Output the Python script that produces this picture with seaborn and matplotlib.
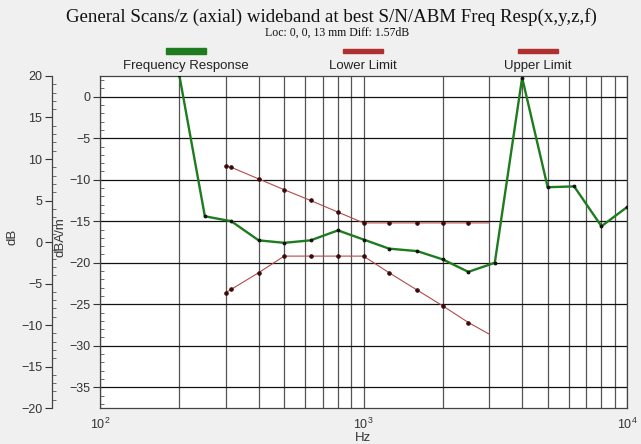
import numpy as np
import pandas as pd
import matplotlib
matplotlib.use('Agg')
import matplotlib.pyplot as plt
import seaborn as sns
from matplotlib.patches import Rectangle
from matplotlib.ticker import MultipleLocator, LogLocator, NullFormatter

# Frequency response (1/3 octave bands), dBA/m
resp_freq = [200, 250, 315, 400, 500, 630, 800, 1000, 1250, 1600, 2000, 2500,
             3150, 4000, 5000, 6300, 8000, 10000]
resp_db = [2.6, -14.4, -15.0, -17.3, -17.6, -17.3, -16.1, -17.2, -18.3, -18.6,
           -19.6, -21.1, -20.0, 2.3, -10.9, -10.8, -15.6, -13.3]

# Limit curves
limit_freq = [300, 315, 400, 500, 630, 800, 1000, 1250, 1600, 2000, 2500, 3000]
upper_db = [-8.3, -8.5, -9.9, -11.2, -12.5, -13.9, -15.2, -15.2, -15.2, -15.2, -15.2, -15.2]
lower_db = [-23.6, -23.2, -21.2, -19.2, -19.2, -19.2, -19.2, -21.2, -23.3, -25.2, -27.2, -28.6]

legend_labels = ['Frequency Response', 'Lower Limit', 'Upper Limit']

green = '#1e7b1e'
red = '#b24a4a'
dot = '#3a0a0a'

sns.set_theme(style='white')
plt.rcParams['font.family'] = ['Liberation Sans', 'DejaVu Sans']
plt.rcParams['mathtext.default'] = 'regular'

fig = plt.figure(figsize=(6.41, 4.44), dpi=100, facecolor='#f0f0f0')
ax = fig.add_axes([100 / 641, 1 - 408 / 444, 527 / 641, 332 / 444])
ax.set_facecolor('white')

# limit curves (last point has no marker)
sns.lineplot(x=limit_freq, y=upper_db, ax=ax, color=red, lw=0.8, marker='o', ms=2.5,
             mfc=dot, mec=dot, markevery=list(range(len(limit_freq) - 1)), zorder=3)
sns.lineplot(x=limit_freq, y=lower_db, ax=ax, color=red, lw=0.8, marker='o', ms=2.5,
             mfc=dot, mec=dot, markevery=list(range(len(limit_freq) - 1)), zorder=3)
# frequency response
sns.lineplot(x=resp_freq, y=resp_db, ax=ax, color=green, lw=1.7, marker='o', ms=2.0,
             mfc='#111111', mec='#111111', zorder=4)

ax.set_xscale('log')
ax.set_xlim(100, 10000)
ax.set_ylim(-37.5, 2.5)
ax.xaxis.set_major_locator(LogLocator(base=10))
ax.xaxis.set_minor_locator(LogLocator(base=10, subs=np.arange(2, 10)))
ax.xaxis.set_minor_formatter(NullFormatter())
ax.yaxis.set_major_locator(MultipleLocator(5))
ax.yaxis.set_minor_locator(MultipleLocator(1))

ax.grid(which='both', axis='x', color='#555555', lw=0.9)
ax.grid(which='major', axis='y', color='#111111', lw=0.9)
ax.set_axisbelow(True)

for s in ax.spines.values():
    s.set_color('#444444')
    s.set_linewidth(0.9)

ax.tick_params(axis='x', which='both', length=0, labelsize=9, colors='#333333', pad=6)
ax.tick_params(axis='y', which='major', direction='out', length=5, width=0.8,
               labelsize=9, colors='#333333', left=True, pad=2)
ax.tick_params(axis='y', which='minor', direction='in', length=3, width=0.6,
               color='#555555', left=True)

ax.set_xlabel('Hz', fontsize=9.5, color='#333333', labelpad=0)
ax.set_ylabel('dBA/m', fontsize=9.5, color='#333333')
ax.yaxis.set_label_coords(-0.064, 0.515)

# outer dB axis
ax2 = ax.twinx()
ax2.set_ylim(-20, 20)
ax2.yaxis.tick_left()
ax2.yaxis.set_label_position('left')
for k in ['right', 'top', 'bottom']:
    ax2.spines[k].set_visible(False)
ax2.spines['left'].set_visible(True)
ax2.spines['left'].set_position(('axes', -48 / 527))
ax2.spines['left'].set_color('#444444')
ax2.spines['left'].set_linewidth(0.9)
ax2.yaxis.set_major_locator(MultipleLocator(5))
ax2.yaxis.set_minor_locator(MultipleLocator(1))
ax2.tick_params(axis='y', which='major', direction='out', length=5, width=0.8,
                labelsize=9, colors='#333333', pad=2)
ax2.tick_params(axis='y', which='minor', direction='in', length=3, width=0.6,
                color='#555555')
ax2.set_ylabel('dB', fontsize=9.5, color='#333333')
ax2.yaxis.set_label_coords(-0.155, 0.515)

# titles
fig.text(331 / 641, 1 - 17 / 444, 'General Scans/z (axial) wideband at best S/N/ABM Freq Resp(x,y,z,f)',
         ha='center', va='center', fontsize=13.6, family='Liberation Serif', color='#111111')
fig.text(337 / 641, 1 - 33 / 444, 'Loc: 0, 0, 13 mm Diff: 1.57dB', ha='center', va='center',
         fontsize=8.5, family='Liberation Serif', color='#111111')

# legend above plot
leg_colors = [green, '#b03030', '#b03030']
leg_x = [186, 363, 538]
leg_h = [6, 4, 4]
for lab, c, xc, h in zip(legend_labels, leg_colors, leg_x, leg_h):
    fig.patches.append(Rectangle(((xc - 20) / 641, 1 - (51 + h / 2) / 444), 40 / 641, h / 444,
                                 transform=fig.transFigure, color=c, figure=fig))
    fig.text(xc / 641, 1 - 66 / 444, lab, ha='center', va='center', fontsize=9.5, color='#222222')

fig.savefig('out.png', dpi=100, facecolor=fig.get_facecolor())
